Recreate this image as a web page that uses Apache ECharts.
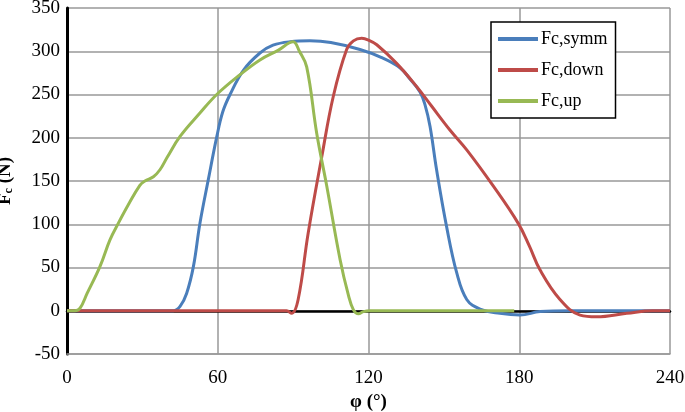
<!DOCTYPE html>
<html>
<head>
<meta charset="utf-8">
<script src="https://cdn.jsdelivr.net/npm/echarts@6/dist/echarts.min.js"></script>
<style>html,body{margin:0;padding:0;background:#fff}#c{width:685px;height:412px}</style>
</head>
<body>
<div id="c"></div>
<script>
var xTicks = [0, 60, 120, 180, 240];
var yTicks = [-50, 0, 50, 100, 150, 200, 250, 300, 350];

var symmX = [0, 20, 40, 42.3, 45, 47.6, 50.3, 52.9, 56.2, 59.6, 62, 64.9, 70.2, 76.8, 82, 88.8, 96.7, 105, 116.6, 125, 132.5, 136.5, 140.5, 142.5, 144.5, 147.1, 151.1, 155.1, 159.1, 164.4, 172.3, 180.3, 188.3, 200, 220, 240];
var symmY = [0, 0, 0, 0, 5, 20, 51, 101, 151, 201, 230, 250, 278, 298, 307, 311, 312, 310, 302, 293, 281, 268, 253, 238, 213, 163, 97, 44, 13, 2, -3, -5, -1, 0, 0, 0];

var downX = [0, 40, 87.4, 89.4, 92, 96, 101.4, 106, 111.3, 114, 117.3, 120, 123.3, 131.2, 139.2, 145, 152.4, 159.1, 169.7, 179.6, 184, 188.3, 196.2, 204.2, 210.8, 222.8, 233, 240];
var downY = [0, 0, 0, -3, 13, 90, 178, 248, 302, 312, 315, 313, 307.5, 286, 259, 237, 209, 186, 144, 101, 75, 47, 13, -5, -7, -3, 0, 0];

var upX = [0, 3, 5.2, 8, 13.1, 17.1, 20.4, 24.4, 29, 31, 34.4, 37, 40, 45, 52.9, 59.6, 68.9, 76.8, 84, 90, 92.5, 95.4, 99.4, 103.4, 108.7, 112, 114, 116, 118, 120.6, 140, 160, 178];
var upY = [0, 0, 3, 20, 51, 82, 101, 122.5, 145, 150, 155, 163, 178, 201.5, 228.5, 250, 273, 290, 301, 311, 300, 282, 205, 144, 59, 18, 1, -3.5, -1, 0, 0, 0, 0];

function pairs(xs, ys) { return xs.map(function (x, i) { return [x, ys[i]]; }); }

var FONT = 'Liberation Serif';
var chart = echarts.init(document.getElementById('c'));
var seriesBase = { type: 'line', showSymbol: false, symbol: 'none', smooth: 0.4 };

chart.setOption({
  animation: false,
  grid: { left: 67, right: 15, top: 8, bottom: 58, containLabel: false, outerBoundsMode: 'none' },
  legend: {
    orient: 'vertical', left: 491, top: 22,
    padding: [8, 8, 8, 7],
    backgroundColor: '#fff',
    borderColor: '#000', borderWidth: 1.5,
    itemWidth: 40, itemHeight: 4, itemGap: 13,
    icon: 'rect',
    textStyle: { fontFamily: FONT, fontSize: 18, color: '#000', padding: [0, 0, 0, -2] },
    data: ['Fc,symm', 'Fc,down', 'Fc,up']
  },
  xAxis: [{
    type: 'value', min: 0, max: 240, interval: 60,
    axisLine: { show: true, onZero: false, lineStyle: { color: '#999', width: 1.5 } },
    axisTick: { show: false },
    splitLine: { show: true, lineStyle: { color: '#999', width: 1.5 } },
    axisLabel: { fontFamily: FONT, fontSize: 19, color: '#000', margin: 15 },
    name: 'φ (°)', nameLocation: 'middle', nameGap: 38,
    nameTextStyle: { fontFamily: FONT, fontSize: 19, fontWeight: 'bold', color: '#000' }
  }, {
    type: 'value', min: 0, max: 240, position: 'bottom',
    axisLine: { show: true, onZero: true, lineStyle: { color: '#000', width: 2.5 } },
    axisTick: { show: false }, axisLabel: { show: false }, splitLine: { show: false }
  }],
  yAxis: {
    type: 'value', min: -50, max: 350, interval: 50,
    axisLine: { show: true, onZero: false, lineStyle: { color: '#000', width: 3 } },
    axisTick: { show: false },
    splitLine: { show: true, lineStyle: { color: '#999', width: 1.5 } },
    axisLabel: { fontFamily: FONT, fontSize: 19, color: '#000', margin: 7 },
    name: '{b|F}{s|c}{b| (N)}', nameLocation: 'middle', nameGap: 52,
    nameTextStyle: {
      fontFamily: FONT, color: '#000',
      rich: {
        b: { fontFamily: FONT, fontSize: 19, fontWeight: 'bold', color: '#000' },
        s: { fontFamily: FONT, fontSize: 12, fontWeight: 'bold', color: '#000', padding: [8, 0, 0, 0] }
      }
    }
  },
  series: [
    Object.assign({}, seriesBase, { name: 'Fc,symm', data: pairs(symmX, symmY), itemStyle: { color: '#4A7EBB' }, lineStyle: { width: 3, color: '#4A7EBB' } }),
    Object.assign({}, seriesBase, { name: 'Fc,down', data: pairs(downX, downY), itemStyle: { color: '#BE4B48' }, lineStyle: { width: 3, color: '#BE4B48' } }),
    Object.assign({}, seriesBase, { name: 'Fc,up', data: pairs(upX, upY), itemStyle: { color: '#98B954' }, lineStyle: { width: 3, color: '#98B954' } })
  ]
});
</script>
</body>
</html>
